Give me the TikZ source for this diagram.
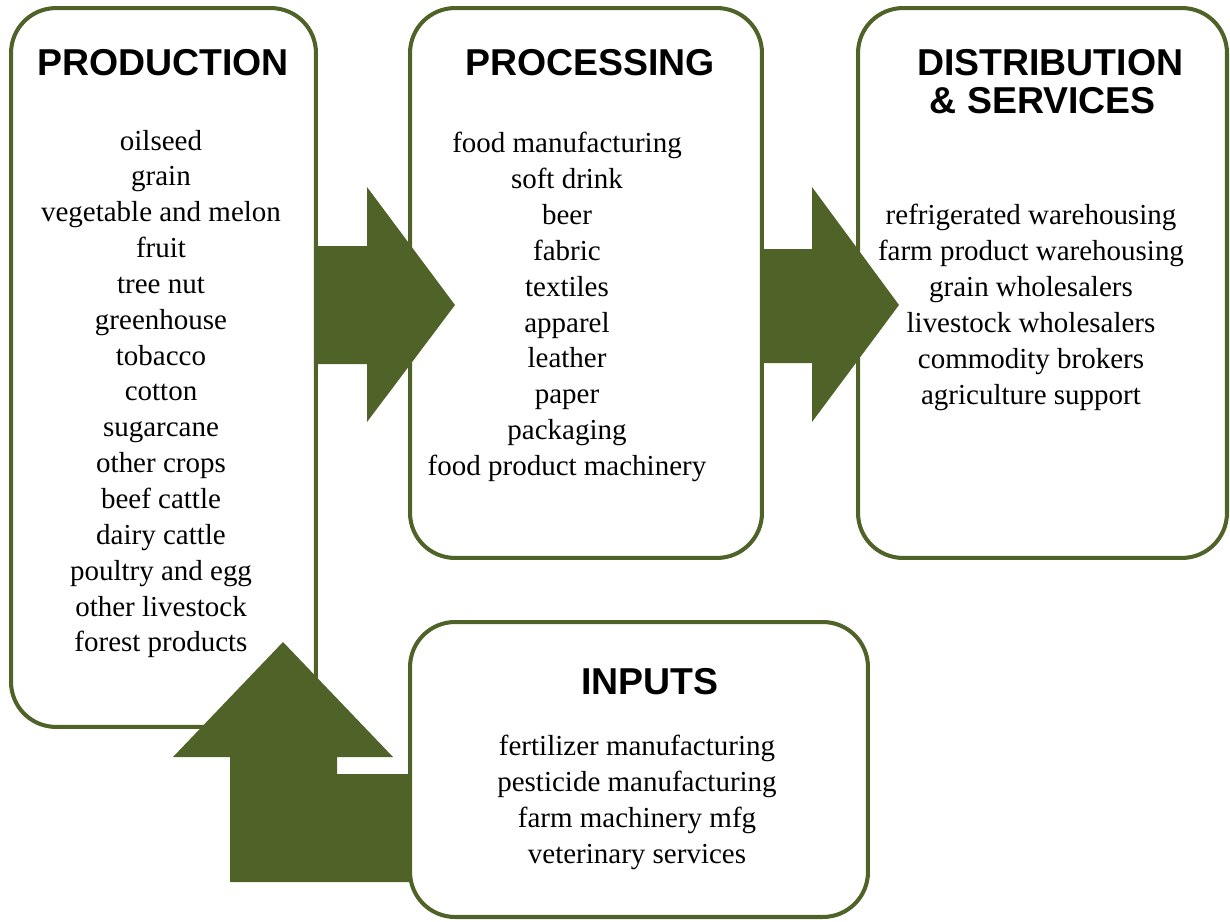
\documentclass[tikz,border=0pt]{standalone}
\usepackage{fontspec}
\setmainfont{Liberation Serif}
\newfontfamily\headfont{Liberation Sans}
\definecolor{olivedark}{RGB}{79,98,40}

\begin{document}
\begin{tikzpicture}[x=0.02cm,y=-0.02cm]
        \tikzset{panel/.style = {draw=olivedark, line width=2.3pt, rounded corners=0.9cm, inner sep=0, outer sep=0},
                 heading/.style = {font=\headfont\bfseries\fontsize{21.3}{21.5}\selectfont},
                 items/.style = {align=center, font=\fontsize{16.5}{20.4}\selectfont},
                 bigarrow/.style = {fill=olivedark}};
        \useasboundingbox (0,0) rectangle (1230,922);
        \node[panel, minimum width=6.1cm, minimum height=14.38cm] (prod) at (163.5,367.5) {};
        \node[panel, minimum width=7.04cm, minimum height=11cm] (proc) at (586,283) {};
        \node[panel, minimum width=7.38cm, minimum height=11cm] (dist) at (1042.5,283) {};
        \node[panel, minimum width=9.16cm, minimum height=5.9cm] (inp) at (639,769.5) {};
        % block arrows
        \fill[bigarrow] (314,246) -- (367,246) -- (367,187) -- (455,305) -- (367,422)
        -- (367,364) -- (314,364) -- cycle;
        \fill[bigarrow] (760,249) -- (812,249) -- (812,187) -- (899,305) -- (812,422)
        -- (812,363) -- (760,363) -- cycle;
        \fill[bigarrow] (410,774) -- (337,774) -- (337,757) -- (393,757) -- (283,642)
        -- (173,757) -- (230,757) -- (230,882) -- (410,882) -- cycle;
        \node[heading] (prodhead) at (163,63) {PRODUCTION};
        \node[heading] (prochead) at (590,63) {PROCESSING};
        \node[heading, align=left, anchor=west] (disthead) at (911,82) {DISTRIBUTION\\ \,\,\& SERVICES};
        \node[heading] (inphead) at (650,682) {INPUTS};
        \node[items] (prodlist) at (161,394) {oilseed\\grain\\vegetable and melon\\fruit\\tree nut\\greenhouse\\tobacco\\cotton\\sugarcane\\other crops\\beef cattle\\dairy cattle\\poultry and egg\\other livestock\\forest products};
        \node[items] (proclist) at (567,307) {food manufacturing\\soft drink\\beer\\fabric\\textiles\\apparel\\leather\\paper\\packaging\\food product machinery};
        \node[items] (distlist) at (1031,307.5) {refrigerated warehousing\\farm product warehousing\\grain wholesalers\\livestock wholesalers\\commodity brokers\\agriculture support};
        \node[items] (inplist) at (637,802.5) {fertilizer manufacturing\\pesticide manufacturing\\farm machinery mfg\\veterinary services};
    \end{tikzpicture}
\end{document}
